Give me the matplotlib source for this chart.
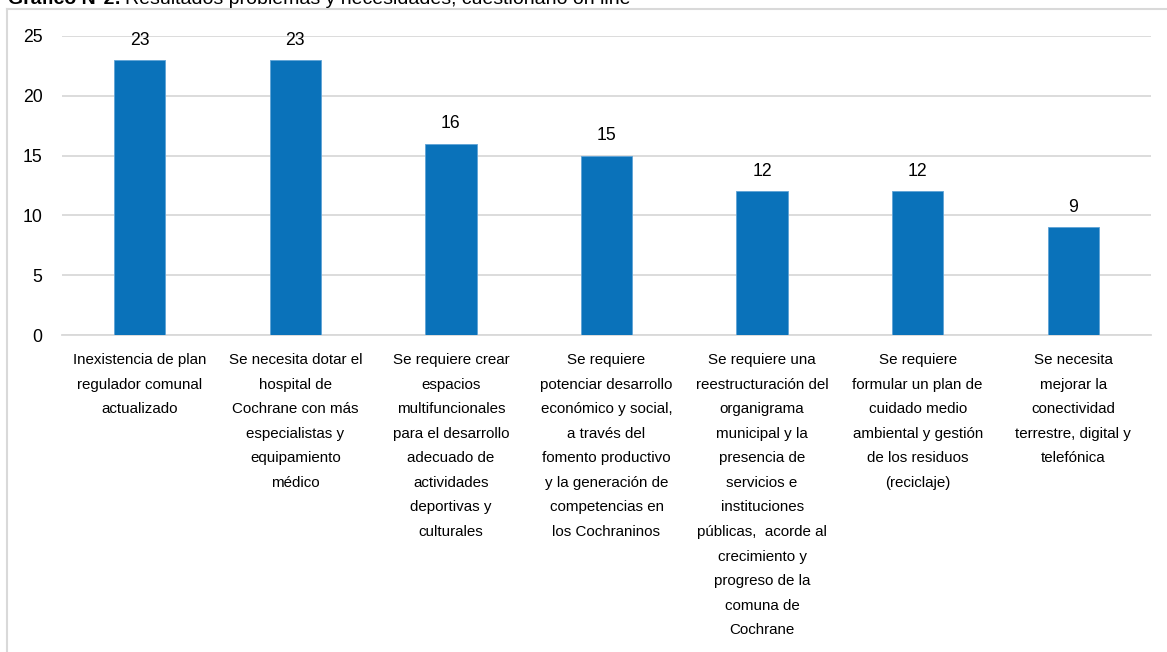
import matplotlib
matplotlib.use("Agg")
import matplotlib.pyplot as plt
from matplotlib import font_manager
from matplotlib.lines import Line2D

categories = [
    "Inexistencia de plan\nregulador comunal\nactualizado",
    "Se necesita dotar el\nhospital de\nCochrane con más\nespecialistas y\nequipamiento\nmédico",
    "Se requiere crear\nespacios\nmultifuncionales\npara el desarrollo\nadecuado de\nactividades\ndeportivas y\nculturales",
    "Se requiere\npotenciar desarrollo\neconómico y social,\na través del\nfomento productivo\ny la generación de\ncompetencias en\nlos Cochraninos",
    "Se requiere una\nreestructuración del\norganigrama\nmunicipal y la\npresencia de\nservicios e\ninstituciones\npúblicas,  acorde al\ncrecimiento y\nprogreso de la\ncomuna de\nCochrane",
    "Se requiere\nformular un plan de\ncuidado medio\nambiental y gestión\nde los residuos\n(reciclaje)",
    "Se necesita\nmejorar la\nconectividad\nterrestre, digital y\ntelefónica",
]
values = [23, 23, 16, 15, 12, 12, 9]
yticks = [0, 5, 10, 15, 20, 25]

# narrow font if present, otherwise scale the regular one
names = {f.name for f in font_manager.fontManager.ttflist}
if "Liberation Sans Narrow" in names:
    fam = ["Liberation Sans Narrow", "DejaVu Sans"]
    k, ls = 1.0, 1.3
else:
    fam = ["Liberation Sans", "DejaVu Sans"]
    k, ls = 0.82, 1.96
plt.rcParams["font.family"] = fam

bar_color = "#0A72BA"
grid_color = "#D9D9D9"

fig = plt.figure(figsize=(11.67, 6.52), dpi=100)
ax = fig.add_axes([62 / 1167, 1 - 335 / 652, (1151 - 62) / 1167, (335 - 36) / 652])

x = range(len(values))
bars = ax.bar(x, values, width=0.33, color=bar_color, edgecolor="#5FA3D6",
              linewidth=0.6, zorder=3)
for xi, v in zip(x, values):
    ax.annotate(str(v), (xi, v), xytext=(0, 11), textcoords="offset points",
                ha="center", va="baseline", fontsize=15.5 * k, color="#000000")

ax.set_ylim(0, 25)
ax.set_xlim(-0.5, len(values) - 0.5)
ax.set_yticks(yticks)
ax.set_yticklabels([str(t) for t in yticks], fontsize=15.5 * k)
ax.set_xticks(list(x))
ax.set_xticklabels(categories, fontsize=13.3 * k, linespacing=ls, va="top")
ax.tick_params(axis="both", length=0)
ax.tick_params(axis="y", pad=14)
ax.tick_params(axis="x", pad=13)
ax.yaxis.grid(True, color=grid_color, linewidth=1.3, zorder=0)
for s in ["top", "right", "left"]:
    ax.spines[s].set_visible(False)
ax.spines["bottom"].set_color(grid_color)
ax.spines["bottom"].set_linewidth(1.3)

# outer chart frame (only top and left edges are inside the crop)
fig.add_artist(Line2D([7 / 1167, 7 / 1167], [0, 1 - 8.5 / 652],
                      transform=fig.transFigure, color=grid_color, lw=1.5))
fig.add_artist(Line2D([7 / 1167, 1], [1 - 8.5 / 652, 1 - 8.5 / 652],
                      transform=fig.transFigure, color=grid_color, lw=1.5))

# caption above the frame, cut off by the top edge as in the source
t1 = fig.text(8 / 1167, 1 - 4.5 / 652, "Gráfico N°2:", fontsize=17.1 * k,
              fontweight="bold", ha="left", va="baseline")
fig.canvas.draw()
bb = t1.get_window_extent()
fig.text((bb.x1 + 4) / 1167, 1 - 4.5 / 652,
         "Resultados problemas y necesidades, cuestionario on line",
         fontsize=17.1 * k, ha="left", va="baseline")

fig.savefig("out.png", dpi=100)
